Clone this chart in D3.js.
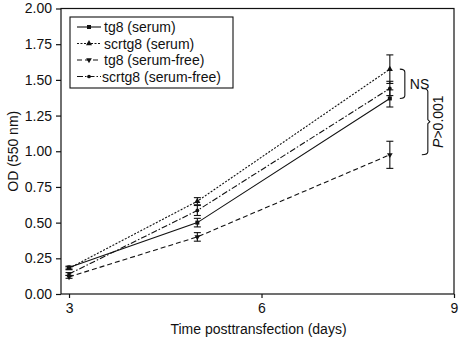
<!DOCTYPE html>
<html>
<head>
<meta charset="utf-8">
<script src="https://cdn.jsdelivr.net/npm/d3@7"></script>
<style>
  body { margin: 0; background: #fff; }
  text { font-family: "Liberation Sans", Arial, sans-serif; fill: #111; }
</style>
</head>
<body>
<div id="chart"></div>
<script>
var days = [3, 5, 8];
var seriesNames = ["tg8 (serum)", "scrtg8 (serum)", "tg8 (serum-free)", "scrtg8 (serum-free)"];
var tg8Serum = [0.185, 0.50, 1.37];
var scrSerum = [0.18, 0.65, 1.575];
var tg8Free = [0.12, 0.40, 0.975];
var scrFree = [0.14, 0.585, 1.44];
var tg8SerumErr = [0.01, 0.03, 0.06];
var scrSerumErr = [0.01, 0.025, 0.10];
var tg8FreeErr = [0.01, 0.03, 0.095];
var scrFreeErr = [0.01, 0.035, 0.05];
var yTicks = [0, 0.25, 0.5, 0.75, 1.0, 1.25, 1.5, 1.75, 2.0];
var xTicks = [3, 6, 9];

var width = 460, height = 340;
var mLeft = 61, mRight = 454, mTop = 8.5, mBottom = 294;

var svg = d3.select("#chart").append("svg")
	.attr("width", width)
	.attr("height", height);

var x = d3.scaleLinear().domain([2.875, 9]).range([mLeft, mRight]);
var y = d3.scaleLinear().domain([0, 2]).range([mBottom, mTop]);

// frame
svg.append("rect")
	.attr("x", mLeft).attr("y", mTop)
	.attr("width", mRight - mLeft).attr("height", mBottom - mTop)
	.attr("fill", "none").attr("stroke", "#111").attr("stroke-width", 1.2);

var yAxis = svg.append("g")
	.attr("transform", "translate(" + mLeft + ",0)")
	.call(d3.axisLeft(y).tickValues(yTicks).tickFormat(d3.format(".2f")).tickSize(5).tickPadding(4));
yAxis.select(".domain").remove();
yAxis.selectAll("text").style("font-size", "14px");

var xAxis = svg.append("g")
	.attr("transform", "translate(0," + mBottom + ")")
	.call(d3.axisBottom(x).tickValues(xTicks).tickFormat(d3.format("d")).tickSize(4).tickPadding(5));
xAxis.select(".domain").remove();
xAxis.selectAll("text").style("font-size", "14px");
svg.selectAll(".tick line").attr("stroke", "#111").attr("stroke-width", 1.2);

svg.append("text")
	.attr("x", (mLeft + mRight) / 2 + 1).attr("y", 334)
	.attr("text-anchor", "middle").style("font-size", "14px")
	.text("Time posttransfection (days)");

svg.append("text")
	.attr("transform", "translate(18," + ((mTop + mBottom) / 2) + ") rotate(-90)")
	.attr("text-anchor", "middle").style("font-size", "14px")
	.text("OD (550 nm)");

var series = [
	{name: seriesNames[0], values: tg8Serum, err: tg8SerumErr, dash: null, sym: d3.symbolSquare},
	{name: seriesNames[1], values: scrSerum, err: scrSerumErr, dash: "2,1.5", sym: d3.symbolTriangle},
	{name: seriesNames[2], values: tg8Free, err: tg8FreeErr, dash: "5,3", sym: "down"},
	{name: seriesNames[3], values: scrFree, err: scrFreeErr, dash: "6,2,1.5,2", sym: d3.symbolCircle}
];

function marker(g, s, px, py) {
	if (s.sym === "down") {
		g.append("path")
			.attr("d", d3.symbol(d3.symbolTriangle).size(14)())
			.attr("transform", "translate(" + px + "," + py + ") rotate(180)")
			.attr("fill", "#111");
	} else {
		g.append("path")
			.attr("d", d3.symbol(s.sym).size(s.sym === d3.symbolCircle ? 11 : 16)())
			.attr("transform", "translate(" + px + "," + py + ")")
			.attr("fill", "#111");
	}
}

var line = d3.line()
	.x(function(d, i) { return x(days[i]); })
	.y(function(d) { return y(d); });

series.forEach(function(s) {
	var g = svg.append("g");
	g.append("path")
		.attr("d", line(s.values))
		.attr("fill", "none")
		.attr("stroke", "#111")
		.attr("stroke-width", 1.1)
		.attr("stroke-dasharray", s.dash);
	s.values.forEach(function(v, i) {
		var px = x(days[i]);
		var e = s.err[i];
		g.append("line")
			.attr("x1", px).attr("x2", px)
			.attr("y1", y(v - e)).attr("y2", y(v + e))
			.attr("stroke", "#111").attr("stroke-width", 1.1);
		[v - e, v + e].forEach(function(c) {
			g.append("line")
				.attr("x1", px - 3.5).attr("x2", px + 3.5)
				.attr("y1", y(c)).attr("y2", y(c))
				.attr("stroke", "#111").attr("stroke-width", 1.1);
		});
		marker(g, s, px, y(v));
	});
});

// legend
var legend = svg.append("g").attr("transform", "translate(70,17)");
legend.append("rect")
	.attr("width", 163).attr("height", 71)
	.attr("fill", "#fff").attr("stroke", "#111").attr("stroke-width", 1.1);
series.forEach(function(s, i) {
	var ly = 10 + i * 16.5;
	legend.append("line")
		.attr("x1", 7).attr("x2", 31)
		.attr("y1", ly).attr("y2", ly)
		.attr("stroke", "#111").attr("stroke-width", 1.1)
		.attr("stroke-dasharray", s.dash);
	marker(legend, s, 19, ly);
	legend.append("text")
		.attr("x", i === 3 ? 32 : 34).attr("y", ly + 5)
		.style("font-size", "14px")
		.text(s.name);
});

// significance brackets
var bx = x(8) + 10;
function bracket(x0, y0, y1, w, tip) {
	var p = d3.path();
	var mid = (y0 + y1) / 2;
	p.moveTo(x0, y0);
	p.quadraticCurveTo(x0 + w, y0, x0 + w, y0 + 3);
	if (tip) {
		p.lineTo(x0 + w, mid - 2);
		p.lineTo(x0 + w + 2, mid);
		p.lineTo(x0 + w, mid + 2);
	}
	p.lineTo(x0 + w, y1 - 3);
	p.quadraticCurveTo(x0 + w, y1, x0, y1);
	svg.append("path").attr("d", p.toString())
		.attr("fill", "none").attr("stroke", "#111").attr("stroke-width", 1.1);
}
bracket(bx, y(scrSerum[2]), y(tg8Serum[2]), 5, false);
svg.append("text")
	.attr("x", bx + 10).attr("y", (y(scrSerum[2]) + y(tg8Serum[2])) / 2 + 5)
	.style("font-size", "14px").text("NS");

bracket(bx + 22, y(scrFree[2]), y(tg8Free[2]), 6, true);
var pt = svg.append("text")
	.attr("transform", "translate(" + (bx + 43) + "," + ((y(scrFree[2]) + y(tg8Free[2])) / 2) + ") rotate(-90)")
	.attr("text-anchor", "middle")
	.style("font-size", "14px");
pt.append("tspan").style("font-style", "italic").text("P");
pt.append("tspan").text(">0.001");
</script>
</body>
</html>
